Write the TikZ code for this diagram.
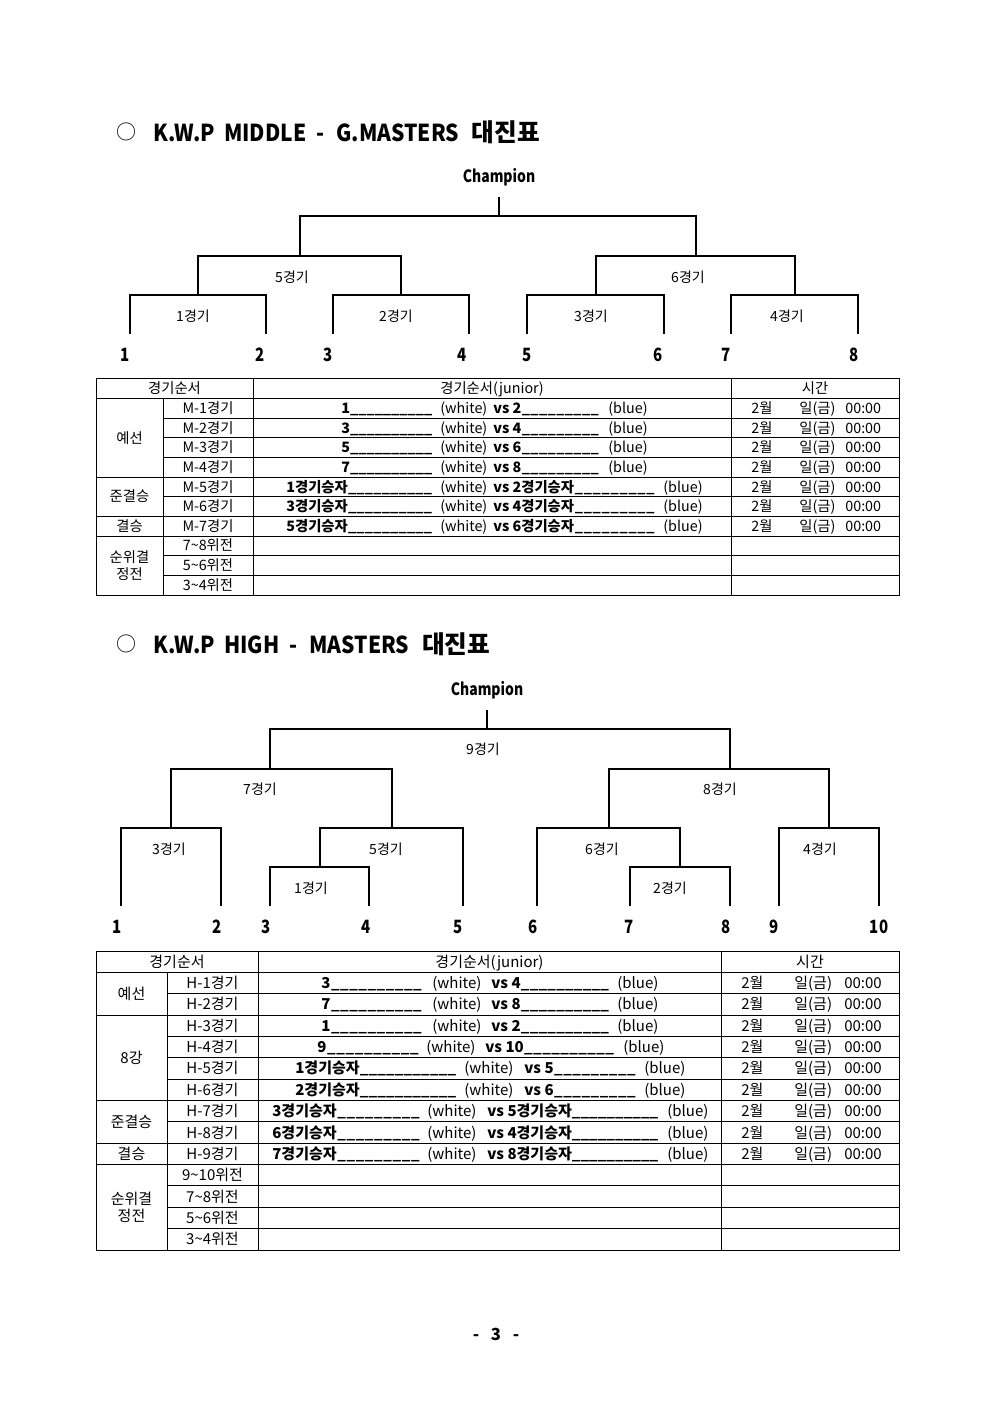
\documentclass[tikz,border=0pt]{standalone}
\usepackage{fontspec}
\setmainfont{Noto Sans CJK KR}
\newfontfamily\kc[FakeStretch=0.82]{Noto Sans CJK KR}
\newfontfamily\kt[FakeStretch=0.9]{Noto Sans CJK KR}
\newdimen\pxu \pxu=0.6pt
\newcommand\fld[2]{\hbox to #1\pxu{#2\xleaders\hbox{\_}\hfil}}
\newcommand\gap[1]{\hspace{#1\pxu}}
\begin{document}
\begin{tikzpicture}[x=0.6pt,y=-0.6pt]
\tikzset{
 brk/.style={line width=1.2pt},
 tbl/.style={line width=0.6pt},
 blab/.style={inner sep=0pt, font=\fontsize{8.4}{10}\selectfont},
 bnum/.style={inner sep=0pt, font=\kc\bfseries\fontsize{11}{13}\selectfont},
 champ/.style={inner sep=0pt, font=\kc\bfseries\fontsize{10.2}{12}\selectfont},
 ttl/.style={inner sep=0pt, anchor=west, font=\kt\bfseries\fontsize{14}{16}\selectfont},
 ta/.style={inner sep=0pt, anchor=base west, font=\fontsize{8.6}{10}\selectfont},
 tc/.style={inner sep=0pt, anchor=base, font=\fontsize{8.6}{10}\selectfont},
 tb/.style={inner sep=0pt, anchor=base west, font=\fontsize{9}{11}\selectfont},
 td/.style={inner sep=0pt, anchor=base, font=\fontsize{9}{11}\selectfont},
}
\fill[white] (0,0) rectangle (992,1403);
\useasboundingbox (0,0) rectangle (992,1403);

% ---------------- Title 1 ----------------
\node[inner sep=0pt, font=\fontsize{12}{14}\selectfont] (c1) at (126,132) {○};
\node[ttl] (t1) at (153,132) {K.W.P\gap{9}MIDDLE\gap{10}-\gap{12}G.MASTERS\gap{13}{\rmfamily\bfseries\fontsize{14.8}{16}\selectfont 대진표}};

% ---------------- Bracket 1 ----------------
\node[champ] (ch1) at (499,177) {Champion};
\coordinate (ctop1) at (499,197);
\foreach \n/\x in {1/130,2/266,3/333,4/469,5/527,6/664,7/731,8/858}{
  \coordinate (l\n) at (\x,334);
}
\coordinate (m1) at (198,295);
\coordinate (m2) at (401,295);
\coordinate (m3) at (595.5,295);
\coordinate (m4) at (794.5,295);
\coordinate (m5) at (299.5,256);
\coordinate (m6) at (696,256);
\coordinate (m7) at (499,216);
\draw[brk] (l1) |- (m1) -| (l2);
\draw[brk] (l3) |- (m2) -| (l4);
\draw[brk] (l5) |- (m3) -| (l6);
\draw[brk] (l7) |- (m4) -| (l8);
\draw[brk] (m1) |- (m5) -| (m2);
\draw[brk] (m3) |- (m6) -| (m4);
\draw[brk] (m5) |- (m7) -| (m6);
\draw[brk] (m7) -- (ctop1);
\node[blab] (a5) at (292,277) {5경기};
\node[blab] (a6) at (688,277) {6경기};
\node[blab] (a1) at (193,316) {1경기};
\node[blab] (a2) at (396,316) {2경기};
\node[blab] (a3) at (591,316) {3경기};
\node[blab] (a4) at (787,316) {4경기};
\foreach \n/\x in {1/125,2/260,3/328,4/462,5/527,6/658,7/726,8/854}{
  \node[bnum] (n\n) at (\x,355) {\n};
}

% ---------------- Table 1 ----------------
\draw[tbl] (96,379) rectangle (899,595);
\draw[tbl] (253,379) -- (253,595);
\draw[tbl] (731,379) -- (731,595);
\draw[tbl] (163,398.64) -- (163,595);
\foreach \k in {1,5,7,8}{
  \draw[tbl] (96,{379+19.636*\k}) -- (899,{379+19.636*\k});
}
\foreach \k in {2,3,4,6,9,10}{
  \draw[tbl] (163,{379+19.636*\k}) -- (899,{379+19.636*\k});
}
\node[tc] (h1a) at (174.5,393.8) {경기순서};
\node[tc] (h1b) at (492,393.8) {경기순서(junior)};
\node[tc] (h1c) at (815,393.8) {시간};
\node[tc] (g1a) at (129.5,443) {예선};
\node[tc] (g1b) at (129.5,501.8) {준결승};
\node[tc] (g1c) at (129.5,531.3) {결승};
\node[inner sep=0pt, align=center, font=\fontsize{8.6}{10}\selectfont] (g1d) at (129.5,565.5) {순위결\\정전};
\foreach \k/\a/\b in {1/1/2,2/3/4,3/5/6,4/7/8}{
  \pgfmathsetmacro\yb{379+19.636*(\k+0.5)+5}
  \node[tc] (ma\k) at (208,\yb) {M-{\k}경기};
  \node[ta] (mb\k) at (341,\yb) {\fld{91}{\bfseries \a}};
  \node[ta] (mc\k) at (440,\yb) {(white)};
  \node[ta] (md\k) at (493,\yb) {\fld{106}{\bfseries vs \b}};
  \node[ta] (me\k) at (608,\yb) {(blue)};
}
\foreach \k/\a/\b in {5/1/2,6/3/4,7/5/6}{
  \pgfmathsetmacro\yb{379+19.636*(\k+0.5)+5}
  \node[tc] (ma\k) at (208,\yb) {M-{\k}경기};
  \node[ta] (mb\k) at (286,\yb) {\fld{146}{\bfseries {\a}경기승자}};
  \node[ta] (mc\k) at (440,\yb) {(white)};
  \node[ta] (md\k) at (493,\yb) {\fld{162}{\bfseries vs {\b}경기승자}};
  \node[ta] (me\k) at (663,\yb) {(blue)};
}
\foreach \k in {1,...,7}{
  \pgfmathsetmacro\yb{379+19.636*(\k+0.5)+5}
  \node[ta] (mt\k a) at (751,\yb) {2월};
  \node[ta] (mt\k b) at (799,\yb) {일(금)};
  \node[ta] (mt\k c) at (845,\yb) {00:00};
}
\foreach \k/\a/\b in {8/7/8,9/5/6,10/3/4}{
  \pgfmathsetmacro\yb{379+19.636*(\k+0.5)+5}
  \node[tc] (ma\k) at (208,\yb) {{\a}\textasciitilde{\b}위전};
}

% ---------------- Title 2 ----------------
\node[inner sep=0pt, font=\fontsize{12}{14}\selectfont] (c2) at (126,644) {○};
\node[ttl] (t2) at (153,644) {K.W.P\gap{9}HIGH\gap{10}-\gap{12}MASTERS\gap{13}{\rmfamily\bfseries\fontsize{14.8}{16}\selectfont 대진표}};

% ---------------- Bracket 2 ----------------
\node[champ] (ch2) at (487,690) {Champion};
\coordinate (ctop2) at (487,710);
\foreach \n/\x in {1/121,2/221,3/270,4/369,5/463,6/537,7/630,8/730,9/779,10/879}{
  \coordinate (b\n) at (\x,906);
}
\coordinate (g1) at (319.5,867);
\coordinate (g2) at (680,867);
\coordinate (g3) at (171,828);
\coordinate (g4) at (829,828);
\coordinate (g5) at (391.5,828);
\coordinate (g6) at (608.5,828);
\coordinate (x7) at (270,769);
\coordinate (x8) at (730,769);
\coordinate (x9) at (487,729);
\draw[brk] (b3) |- (g1) -| (b4);
\draw[brk] (b7) |- (g2) -| (b8);
\draw[brk] (b1) |- (g3) -| (b2);
\draw[brk] (b9) |- (g4) -| (b10);
\draw[brk] (g1) |- (g5) -| (b5);
\draw[brk] (b6) |- (g6) -| (g2);
\draw[brk] (g3) |- (x7) -| (g5);
\draw[brk] (g6) |- (x8) -| (g4);
\draw[brk] (x7) |- (x9) -| (x8);
\draw[brk] (x9) -- (ctop2);
\node[blab] (k9) at (483,749) {9경기};
\node[blab] (k7) at (260,789) {7경기};
\node[blab] (k8) at (720,789) {8경기};
\node[blab] (k3) at (169,849) {3경기};
\node[blab] (k5) at (386,849) {5경기};
\node[blab] (k6) at (602,849) {6경기};
\node[blab] (k4) at (820,849) {4경기};
\node[blab] (k1) at (311,888) {1경기};
\node[blab] (k2) at (670,888) {2경기};
\foreach \n/\x in {1/117,2/217,3/266,4/366,5/458,6/533,7/629,8/726,9/774,10/879}{
  \node[bnum] (p\n) at (\x,927) {\n};
}

% ---------------- Table 2 ----------------
\draw[tbl] (96,951) rectangle (899,1250);
\draw[tbl] (258,951) -- (258,1250);
\draw[tbl] (721,951) -- (721,1250);
\draw[tbl] (167,972.36) -- (167,1250);
\foreach \k in {1,3,7,9,10}{
  \draw[tbl] (96,{951+21.357*\k}) -- (899,{951+21.357*\k});
}
\foreach \k in {2,4,5,6,8,11,12,13}{
  \draw[tbl] (167,{951+21.357*\k}) -- (899,{951+21.357*\k});
}
\node[td] (h2a) at (177,967.2) {경기순서};
\node[td] (h2b) at (489.5,967.2) {경기순서(junior)};
\node[td] (h2c) at (810,967.2) {시간};
\node[td] (q2a) at (131.5,999.2) {예선};
\node[td] (q2b) at (131.5,1063.3) {8강};
\node[td] (q2c) at (131.5,1127.4) {준결승};
\node[td] (q2d) at (131.5,1159.4) {결승};
\node[inner sep=0pt, align=center, font=\fontsize{9}{10.2}\selectfont] (q2e) at (131.5,1207.3) {순위결\\정전};
\foreach \k/\a/\b in {1/3/4,2/7/8,3/1/2}{
  \pgfmathsetmacro\yb{951+21.357*(\k+0.5)+5.5}
  \node[td] (ha\k) at (212.5,\yb) {H-{\k}경기};
  \node[tb] (hb\k) at (321,\yb) {\fld{101}{\bfseries \a}};
  \node[tb] (hc\k) at (432,\yb) {(white)};
  \node[tb] (hd\k) at (491,\yb) {\fld{118}{\bfseries vs \b}};
  \node[tb] (he\k) at (617,\yb) {(blue)};
}
\pgfmathsetmacro\yb{951+21.357*4.5+5.5}
\node[td] (ha4) at (212.5,\yb) {H-4경기};
\node[tb] (hb4) at (317,\yb) {\fld{102}{\bfseries 9}};
\node[tb] (hc4) at (426,\yb) {(white)};
\node[tb] (hd4) at (485,\yb) {\fld{129}{\bfseries vs 10}};
\node[tb] (he4) at (623,\yb) {(blue)};
\foreach \k/\a/\b in {5/1/5,6/2/6}{
  \pgfmathsetmacro\yb{951+21.357*(\k+0.5)+5.5}
  \node[td] (ha\k) at (212.5,\yb) {H-{\k}경기};
  \node[tb] (hb\k) at (295,\yb) {\fld{161}{\bfseries {\a}경기승자}};
  \node[tb] (hc\k) at (464,\yb) {(white)};
  \node[tb] (hd\k) at (524,\yb) {\fld{112}{\bfseries vs \b}};
  \node[tb] (he\k) at (644,\yb) {(blue)};
}
\foreach \k/\a/\b in {7/3/5,8/6/4,9/7/8}{
  \pgfmathsetmacro\yb{951+21.357*(\k+0.5)+5.5}
  \node[td] (ha\k) at (212.5,\yb) {H-{\k}경기};
  \node[tb] (hb\k) at (272,\yb) {\fld{148}{\bfseries {\a}경기승자}};
  \node[tb] (hc\k) at (427,\yb) {(white)};
  \node[tb] (hd\k) at (487,\yb) {\fld{171}{\bfseries vs {\b}경기승자}};
  \node[tb] (he\k) at (667,\yb) {(blue)};
}
\foreach \k in {1,...,9}{
  \pgfmathsetmacro\yb{951+21.357*(\k+0.5)+5.5}
  \node[tb] (ht\k a) at (741,\yb) {2월};
  \node[tb] (ht\k b) at (794,\yb) {일(금)};
  \node[tb] (ht\k c) at (844,\yb) {00:00};
}
\foreach \k/\a/\b in {10/9/10,11/7/8,12/5/6,13/3/4}{
  \pgfmathsetmacro\yb{951+21.357*(\k+0.5)+5.5}
  \node[td] (ha\k) at (212.5,\yb) {{\a}\textasciitilde{\b}위전};
}

% ---------------- Page number ----------------
\node[inner sep=0pt, font=\bfseries\fontsize{10}{12}\selectfont] (pg) at (496,1334) {-\hspace{7pt}3\hspace{7pt}-};
\end{tikzpicture}
\end{document}
